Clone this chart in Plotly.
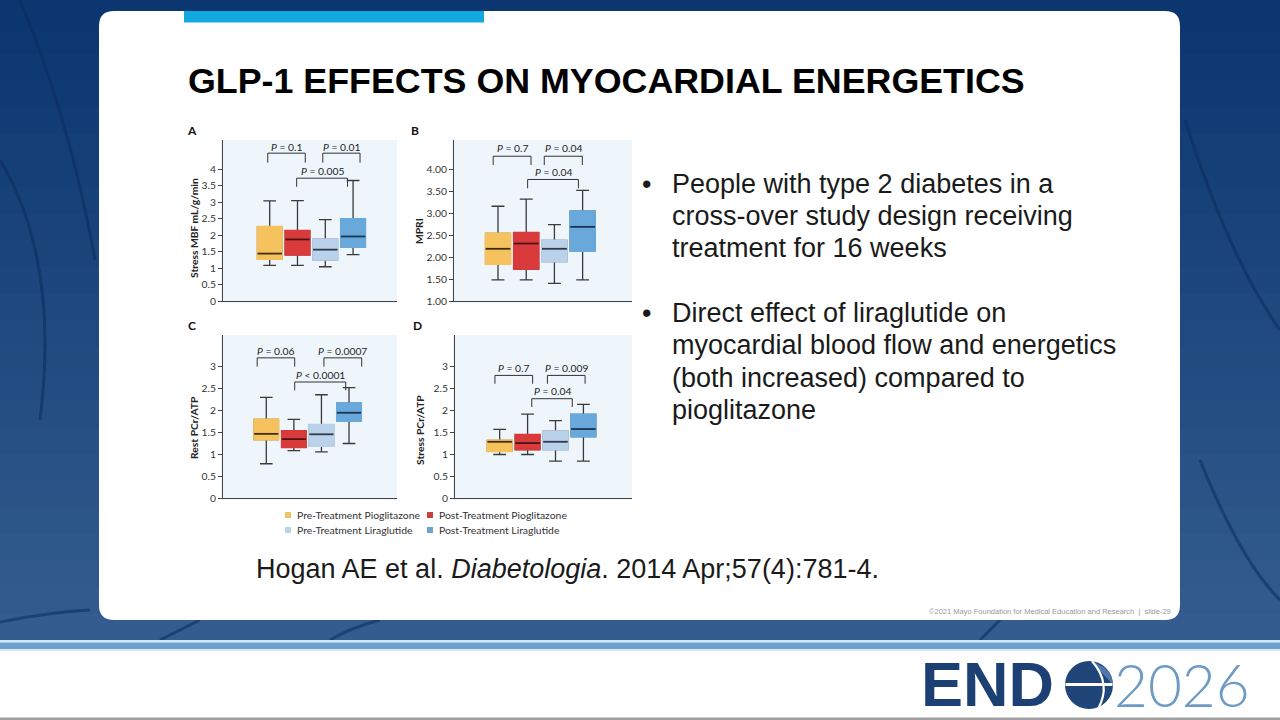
import plotly.graph_objects as go

W, H = 1280, 720


def fx(x):
    return x / W


def fy(y):
    return 1 - y / H


# ---------------- data ----------------
groups = ["Pre-Treatment Pioglitazone", "Post-Treatment Pioglitazone",
          "Pre-Treatment Liraglutide", "Post-Treatment Liraglutide"]
positions = [0, 1, 2, 3]

# Panel A: Stress MBF mL/g/min
a_low = [1.08, 1.08, 1.04, 1.41]
a_q1 = [1.27, 1.40, 1.25, 1.64]
a_med = [1.44, 1.87, 1.56, 1.96]
a_q3 = [2.26, 2.14, 1.88, 2.49]
a_high = [3.04, 3.05, 2.47, 3.66]

# Panel B: MPRI
b_low = [1.48, 1.48, 1.40, 1.48]
b_q1 = [1.84, 1.73, 1.90, 2.14]
b_med = [2.19, 2.31, 2.19, 2.69]
b_q3 = [2.54, 2.56, 2.38, 3.05]
b_high = [3.16, 3.32, 2.74, 3.52]

# Panel C: Rest PCr/ATP
c_low = [0.78, 1.08, 1.05, 1.24]
c_q1 = [1.33, 1.15, 1.18, 1.75]
c_med = [1.46, 1.34, 1.45, 1.94]
c_q3 = [1.79, 1.53, 1.67, 2.16]
c_high = [2.29, 1.79, 2.35, 2.51]

# Panel D: Stress PCr/ATP
d_low = [0.99, 0.99, 0.84, 0.84]
d_q1 = [1.06, 1.10, 1.10, 1.40]
d_med = [1.28, 1.25, 1.28, 1.57]
d_q3 = [1.31, 1.44, 1.52, 1.90]
d_high = [1.56, 1.91, 1.76, 2.13]

# significance brackets: left x, right x, top, leg end, label, label y
a_brackets = [(-0.07, 1.28, 4.49, 4.20, "<i>P</i> = 0.1", 4.69),
              (1.91, 3.25, 4.49, 4.20, "<i>P</i> = 0.01", 4.69),
              (0.97, 2.80, 3.73, 3.47, "<i>P</i> = 0.005", 3.96)]
b_brackets = [(-0.17, 1.17, 4.30, 4.10, "<i>P</i> = 0.7", 4.48),
              (1.64, 2.99, 4.30, 4.10, "<i>P</i> = 0.04", 4.48),
              (1.05, 2.85, 3.77, 3.57, "<i>P</i> = 0.04", 3.95)]
c_brackets = [(-0.33, 1.03, 3.19, 2.99, "<i>P</i> = 0.06", 3.34),
              (2.09, 3.46, 3.19, 2.99, "<i>P</i> = 0.0007", 3.34),
              (1.03, 2.88, 2.64, 2.45, "<i>P</i> &lt; 0.0001", 2.81)]
d_brackets = [(-0.17, 1.18, 2.79, 2.60, "<i>P</i> = 0.7", 2.97),
              (1.71, 3.06, 2.79, 2.60, "<i>P</i> = 0.009", 2.97),
              (1.15, 2.60, 2.26, 2.07, "<i>P</i> = 0.04", 2.43)]

a_ticks = [0, 0.5, 1, 1.5, 2, 2.5, 3, 3.5, 4]
a_ticktext = ["0", "0.5", "1", "1.5", "2", "2.5", "3", "3.5", "4"]
b_ticks = [1.0, 1.5, 2.0, 2.5, 3.0, 3.5, 4.0]
b_ticktext = ["1.00", "1.50", "2.00", "2.50", "3.00", "3.50", "4.00"]
c_ticks = [0, 0.5, 1, 1.5, 2, 2.5, 3]
c_ticktext = ["0", "0.5", "1", "1.5", "2", "2.5", "3"]

titles = ["Stress MBF mL/g/min", "MPRI", "Rest PCr/ATP", "Stress PCr/ATP"]
letters = ["A", "B", "C", "D"]

slide_title = "GLP-1 EFFECTS ON MYOCARDIAL ENERGETICS"
bullet1 = ["People with type 2 diabetes in a", "cross-over study design receiving",
           "treatment for 16 weeks"]
bullet2 = ["Direct effect of liraglutide on", "myocardial blood flow and energetics",
           "(both increased) compared to", "pioglitazone"]
citation = "Hogan AE et al. <i>Diabetologia</i>. 2014 Apr;57(4):781-4."
footer = "©2021 Mayo Foundation for Medical Education and Research  |  slide-29"

# ---------------- styles ----------------
box_colors = ["#F6C25E", "#D93A3B", "#BAD1EA", "#69A8DA"]
legend_colors = ["#EDC564", "#C8413F", "#BCD2E6", "#6EA4CB"]
median_colors = ["#3d2e12", "#4a1414", "#2e3a4a", "#1c3550"]
whisker_color = "#3a3a3a"
panel_bg = "#EEF5FB"
fig_font = "Lato"

panels = [
    dict(data=(a_low, a_q1, a_med, a_q3, a_high), br=a_brackets,
         xdom=(223, 397), ydom=(140, 301), xr=(-1.68, 4.58), yr=(0, 4.89),
         tv=a_ticks, tt=a_ticktext, tpos=(194, 228), lpos=(192, 130)),
    dict(data=(b_low, b_q1, b_med, b_q3, b_high), br=b_brackets,
         xdom=(454, 632), ydom=(140, 301), xr=(-1.56, 4.75), yr=(1, 4.67),
         tv=b_ticks, tt=b_ticktext, tpos=(419, 231), lpos=(415, 130)),
    dict(data=(c_low, c_q1, c_med, c_q3, c_high), br=c_brackets,
         xdom=(223, 397), ydom=(335, 498), xr=(-1.57, 4.74), yr=(0, 3.71),
         tv=c_ticks, tt=c_ticktext, tpos=(194, 428), lpos=(192, 326)),
    dict(data=(d_low, d_q1, d_med, d_q3, d_high), br=d_brackets,
         xdom=(455, 632), ydom=(335, 498), xr=(-1.60, 4.74), yr=(0, 3.71),
         tv=c_ticks, tt=c_ticktext, tpos=(420, 430), lpos=(417, 326)),
]

BOXW = 0.88

fig = go.Figure()
layout_axes = {}
annotations = []
shapes = []


def note(x, y, text, size, color, family, weight=400, xanchor="center", angle=0, pad=1):
    annotations.append(dict(
        x=fx(x), y=fy(y), xref="paper", yref="paper", xanchor=xanchor,
        yanchor="middle", text=text, showarrow=False, textangle=angle,
        borderpad=pad,
        font=dict(family=family, size=size, color=color, weight=weight)))


for i, p in enumerate(panels):
    n = i + 1
    xa = "x" if n == 1 else f"x{n}"
    ya = "y" if n == 1 else f"y{n}"
    low, q1, med, q3, high = p["data"]
    px_per_unit = (p["xdom"][1] - p["xdom"][0]) / (p["xr"][1] - p["xr"][0])
    for k in range(4):
        fig.add_trace(go.Box(
            x=[positions[k]], q1=[q1[k]], median=[med[k]], q3=[q3[k]],
            lowerfence=[low[k]], upperfence=[high[k]], width=BOXW,
            fillcolor=box_colors[k], line=dict(color=whisker_color, width=1.3),
            whiskerwidth=0.52, boxpoints=False, xaxis=xa, yaxis=ya,
            showlegend=False, hoverinfo="skip"))
        fig.add_trace(go.Box(
            x=[positions[k]], q1=[q1[k]], median=[med[k]], q3=[q3[k]],
            lowerfence=[q1[k]], upperfence=[q3[k]], width=BOXW,
            fillcolor=box_colors[k], line=dict(color=box_colors[k], width=1.8),
            whiskerwidth=0, boxpoints=False, xaxis=xa, yaxis=ya,
            showlegend=False, hoverinfo="skip"))
        fig.add_trace(go.Scatter(
            x=[positions[k]], y=[med[k]], mode="markers",
            marker=dict(symbol="line-ew", size=BOXW * px_per_unit / 1.4,
                        line=dict(color=median_colors[k], width=1.8)),
            xaxis=xa, yaxis=ya, showlegend=False, hoverinfo="skip"))
    for (x0, x1, yt, yl, lab, ly) in p["br"]:
        fig.add_trace(go.Scatter(
            x=[x0, x0, x1, x1], y=[yl, yt, yt, yl], mode="lines",
            line=dict(color="#333333", width=1), xaxis=xa, yaxis=ya,
            showlegend=False, hoverinfo="skip"))
        annotations.append(dict(
            x=(x0 + x1) / 2, y=ly, xref=xa, yref=ya, text=lab, showarrow=False,
            xanchor="center", yanchor="middle",
            font=dict(family=fig_font, size=10.3, color="#222222")))
    xkey = "xaxis" if n == 1 else f"xaxis{n}"
    ykey = "yaxis" if n == 1 else f"yaxis{n}"
    layout_axes[xkey] = dict(
        domain=[fx(p["xdom"][0]), fx(p["xdom"][1])], range=list(p["xr"]),
        anchor=ya, showline=True, linecolor="#444444", linewidth=1,
        showticklabels=False, ticks="", showgrid=False, zeroline=False,
        fixedrange=True, automargin=False)
    layout_axes[ykey] = dict(
        domain=[fy(p["ydom"][1]), fy(p["ydom"][0])], range=list(p["yr"]),
        anchor=xa, showline=True, linecolor="#444444", linewidth=1,
        ticks="outside", ticklen=4, tickcolor="#444444", tickvals=p["tv"],
        ticktext=p["tt"], tickfont=dict(family=fig_font, size=10.3, color="#333333"),
        showgrid=False, zeroline=False, fixedrange=True, automargin=False)
    shapes.append(dict(type="rect", xref="paper", yref="paper", layer="below",
                       x0=fx(p["xdom"][0] - 2), x1=fx(p["xdom"][1]),
                       y0=fy(p["ydom"][1] + 2), y1=fy(p["ydom"][0]),
                       fillcolor=panel_bg, line=dict(width=0)))
    note(p["tpos"][0], p["tpos"][1], titles[i], 10.3, "#222222", fig_font, 700, angle=-90)
    note(p["lpos"][0], p["lpos"][1], letters[i], 12, "#111111", fig_font, 700)

# legend (2 x 2)
leg_pos = [(288, 515), (430, 515), (288, 530), (430, 530)]
for k in range(4):
    lx, ly = leg_pos[k]
    shapes.append(dict(type="rect", xref="paper", yref="paper",
                       x0=fx(lx - 3), x1=fx(lx + 3), y0=fy(ly + 3), y1=fy(ly - 3),
                       fillcolor=legend_colors[k], line=dict(width=0)))
    note(lx + 7, ly, groups[k], 10.4, "#333333", fig_font, xanchor="left")

# ---------------- slide decoration ----------------
top_c = (11, 54, 112)
bot_c = (52, 92, 142)
NB = 24
bands = []
for b in range(NB):
    t = b / (NB - 1)
    c = tuple(int(top_c[j] + (bot_c[j] - top_c[j]) * t) for j in range(3))
    bands.append(dict(type="rect", xref="paper", yref="paper", layer="below",
                      x0=0, x1=1, y0=fy(640 * (b + 1) / NB + 1), y1=fy(640 * b / NB),
                      fillcolor="rgb(%d,%d,%d)" % c, line=dict(width=0)))


def pth(cmds):
    s = ""
    for seg in cmds:
        coords = seg[1:]
        pairs = ["%.5f,%.5f" % (fx(coords[j]), fy(coords[j + 1]))
                 for j in range(0, len(coords), 2)]
        s += seg[0] + " ".join(pairs) + " "
    return s


def rrect(x0, y0, x1, y1, r):
    return pth([("M", x0 + r, y0), ("L", x1 - r, y0), ("Q", x1, y0, x1, y0 + r),
                ("L", x1, y1 - r), ("Q", x1, y1, x1 - r, y1), ("L", x0 + r, y1),
                ("Q", x0, y1, x0, y1 - r), ("L", x0, y0 + r), ("Q", x0, y0, x0 + r, y0)]) + "Z"


# faint veins in the background
veins = [
    [("M", 0, 160), ("Q", 60, 260, 40, 420)],
    [("M", 20, 0), ("Q", 70, 120, 95, 260)],
    [("M", 0, 622), ("Q", 50, 612, 90, 610)],
    [("M", 1185, 120), ("Q", 1230, 260, 1280, 330)],
    [("M", 1200, 460), ("Q", 1240, 560, 1280, 600)],
    [("M", 160, 640), ("Q", 190, 625, 200, 620)],
    [("M", 330, 640), ("Q", 350, 628, 380, 620)],
    [("M", 980, 640), ("Q", 990, 630, 1000, 620)],
]
vein_shapes = [dict(type="path", xref="paper", yref="paper", layer="below",
                    path=pth(v), line=dict(color="rgba(12,44,92,0.55)", width=3))
               for v in veins]

deco = [
    dict(type="rect", x0=0, x1=1, y0=0, y1=fy(640), fillcolor="#ffffff"),
    dict(type="rect", x0=0, x1=1, y0=fy(642.5), y1=fy(640), fillcolor="#cfe8f7"),
    dict(type="rect", x0=0, x1=1, y0=fy(649), y1=fy(642.5), fillcolor="#6d9fcf"),
    dict(type="rect", x0=0, x1=1, y0=fy(651), y1=fy(649), fillcolor="#d7e8f5"),
    dict(type="rect", x0=0, x1=1, y0=0, y1=fy(717.5), fillcolor="#a0a0a0"),
    dict(type="path", path=rrect(99, 11, 1180, 620, 15), fillcolor="#ffffff"),
    dict(type="rect", x0=fx(184), x1=fx(484), y0=fy(22.5), y1=fy(11), fillcolor="#13A9DE"),
]
for d in deco:
    d.update(xref="paper", yref="paper", layer="below", line=dict(width=0))
shapes = bands + vein_shapes + deco + shapes

# globe of the logo
shapes.append(dict(type="circle", xref="paper", yref="paper",
                   x0=fx(1065), x1=fx(1113), y0=fy(709), y1=fy(661),
                   fillcolor="#1f4579", line=dict(width=0)))
shapes.append(dict(type="path", xref="paper", yref="paper",
                   path=pth([("M", 1091, 661.5), ("Q", 1113, 668, 1112.5, 684)]) + "Z",
                   fillcolor="#4f79ad", line=dict(width=0)))
shapes.append(dict(type="line", xref="paper", yref="paper",
                   x0=fx(1065.5), x1=fx(1112.5), y0=fy(684.5), y1=fy(684.5),
                   line=dict(color="#ffffff", width=3)))
shapes.append(dict(type="path", xref="paper", yref="paper",
                   path=pth([("M", 1092, 661), ("Q", 1112, 684, 1098, 709)]),
                   line=dict(color="#ffffff", width=2.2)))

slide_font = "Liberation Sans"
note(186, 81, slide_title, 35.8, "#000000", slide_font, 700, xanchor="left")
b1_y = [184, 216, 248]
b2_y = [313, 345, 378, 410]
for txt, yy in zip(bullet1, b1_y):
    note(670, yy, txt, 27, "#1a1a1a", slide_font, xanchor="left")
for txt, yy in zip(bullet2, b2_y):
    note(670, yy, txt, 27, "#1a1a1a", slide_font, xanchor="left")
for yy in (b1_y[0], b2_y[0]):
    note(640, yy, "•", 27, "#1a1a1a", slide_font, xanchor="left")
note(254, 569, citation, 27, "#1a1a1a", slide_font, xanchor="left")
note(1173, 611, footer, 7.5, "#999999", slide_font, xanchor="right")
note(920, 684, "END", 63, "#1c3f74", slide_font, 700, xanchor="left", pad=0)
note(1113, 684, "2026", 58.5, "#6d9bc4", "Lato", 300, xanchor="left", pad=0)

fig.update_layout(
    template="none",
    width=W, height=H, autosize=False,
    margin=dict(l=0, r=0, t=0, b=0, pad=0, autoexpand=False),
    paper_bgcolor="#0b3670", plot_bgcolor="rgba(0,0,0,0)",
    boxmode="overlay", showlegend=False,
    shapes=shapes, annotations=annotations, **layout_axes)

fig.write_html("out.html", config=dict(displayModeBar=False),
               post_script="document.body.style.margin='0';document.body.style.overflow='hidden';")
